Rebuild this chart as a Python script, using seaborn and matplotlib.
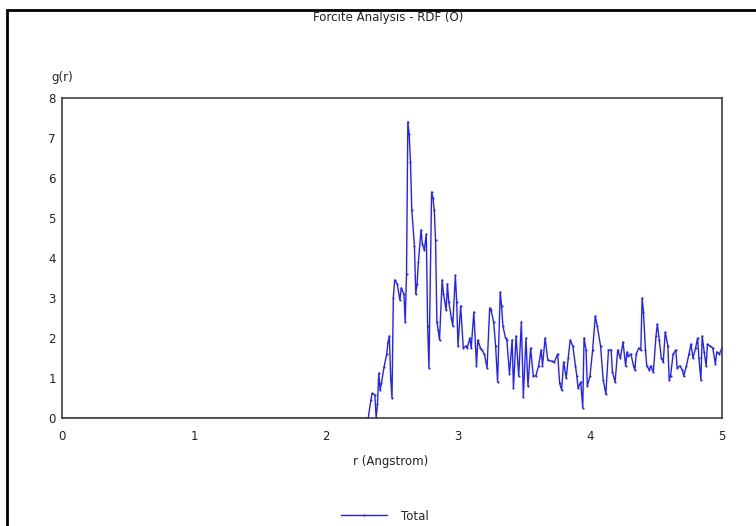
import matplotlib
matplotlib.use("Agg")
import matplotlib.pyplot as plt
from matplotlib.patches import Rectangle
from matplotlib.ticker import MultipleLocator
import seaborn as sns

# g(r) values
r_vals = [0.0, 2.32, 2.34, 2.35, 2.37, 2.38, 2.39, 2.40, 2.41, 2.42,
          2.44, 2.46, 2.47, 2.48, 2.49, 2.50, 2.51, 2.52, 2.54, 2.56,
          2.57, 2.59, 2.60, 2.61, 2.62, 2.63, 2.64, 2.65, 2.67, 2.68,
          2.69, 2.70, 2.72, 2.73, 2.745, 2.76, 2.77, 2.78, 2.80, 2.81,
          2.82, 2.83, 2.84, 2.85, 2.86, 2.88, 2.89, 2.91, 2.92, 2.93,
          2.95, 2.96, 2.98, 2.99, 3.00, 3.02, 3.04, 3.06, 3.07, 3.09,
          3.10, 3.12, 3.14, 3.15, 3.17, 3.18, 3.20, 3.22, 3.24, 3.25,
          3.27, 3.285, 3.30, 3.32, 3.33, 3.34, 3.36, 3.37, 3.39, 3.41,
          3.42, 3.44, 3.46, 3.48, 3.495, 3.515, 3.53, 3.55, 3.57, 3.59,
          3.61, 3.63, 3.64, 3.66, 3.68, 3.71, 3.73, 3.755, 3.77, 3.785,
          3.80, 3.82, 3.835, 3.85, 3.87, 3.89, 3.90, 3.91, 3.93, 3.945,
          3.955, 3.97, 3.98, 4.00, 4.02, 4.04, 4.055, 4.08, 4.10, 4.12,
          4.14, 4.16, 4.17, 4.19, 4.21, 4.23, 4.25, 4.27, 4.28, 4.29,
          4.31, 4.33, 4.34, 4.35, 4.37, 4.385, 4.395, 4.405, 4.42, 4.43,
          4.45, 4.46, 4.48, 4.50, 4.51, 4.525, 4.54, 4.555, 4.57, 4.59,
          4.60, 4.61, 4.63, 4.65, 4.66, 4.68, 4.70, 4.71, 4.73, 4.75,
          4.765, 4.78, 4.80, 4.815, 4.825, 4.84, 4.85, 4.865, 4.88, 4.89,
          4.91, 4.93, 4.95, 4.96, 4.98, 5.00]
g_vals = [0.0, 0.0, 0.45, 0.62, 0.58, 0.0, 0.35, 1.12, 0.7, 0.87,
          1.28, 1.6, 1.9, 2.05, 1.0, 0.5, 3.0, 3.45, 3.35, 2.95,
          3.25, 3.1, 2.4, 3.6, 7.4, 7.1, 6.4, 5.2, 4.3, 3.1,
          3.35, 3.9, 4.7, 4.35, 4.2, 4.6, 2.3, 1.25, 5.65, 5.5,
          5.2, 4.45, 2.4, 2.2, 1.95, 3.45, 3.1, 2.7, 3.35, 2.9,
          2.5, 2.3, 3.57, 2.9, 1.8, 2.8, 1.75, 1.8, 1.75, 2.0,
          1.75, 2.65, 1.3, 1.95, 1.75, 1.7, 1.6, 1.25, 2.75, 2.7,
          2.4, 1.8, 0.9, 3.15, 2.8, 2.3, 2.0, 1.95, 1.1, 1.95,
          0.75, 2.05, 1.05, 2.4, 0.53, 2.0, 0.8, 1.75, 1.05, 1.05,
          1.3, 1.7, 1.3, 2.0, 1.45, 1.42, 1.4, 1.6, 0.87, 0.7,
          1.4, 1.0, 1.5, 1.95, 1.8, 1.3, 1.05, 0.75, 0.9, 0.25,
          2.0, 1.7, 0.8, 1.05, 1.7, 2.55, 2.3, 1.8, 0.95, 0.6,
          1.7, 1.7, 1.15, 0.9, 1.7, 1.5, 1.9, 1.3, 1.65, 1.55,
          1.6, 1.3, 1.2, 1.6, 1.75, 1.7, 3.0, 2.65, 1.7, 1.3,
          1.2, 1.3, 1.15, 2.05, 2.35, 1.95, 1.5, 1.4, 2.15, 1.8,
          0.95, 1.05, 1.6, 1.7, 1.25, 1.3, 1.2, 1.05, 1.3, 1.6,
          1.85, 1.5, 1.75, 2.0, 1.5, 0.95, 2.05, 1.65, 1.3, 1.85,
          1.8, 1.75, 1.35, 1.65, 1.6, 1.75]
assert len(r_vals) == len(g_vals)

sns.set_theme(style="white")
plt.rcParams["font.family"] = ["DejaVu Sans"]
FS = 8.5
plt.rcParams["font.size"] = FS

W, H = 756, 526
fig = plt.figure(figsize=(W / 100, H / 100), dpi=100)
ax = fig.add_axes([62 / W, 108 / H, 660 / W, 320 / H])

sns.lineplot(x=r_vals, y=g_vals, ax=ax, color="#2222ff", linewidth=1.0,
             estimator=None, marker="o", markersize=1.5, markeredgewidth=0,
             label="Total")

ax.set_xlim(0, 5)
ax.set_ylim(0, 8)
ax.xaxis.set_major_locator(MultipleLocator(1))
ax.xaxis.set_minor_locator(MultipleLocator(0.5))
ax.yaxis.set_major_locator(MultipleLocator(1))
ax.yaxis.set_minor_locator(MultipleLocator(0.5))
ax.tick_params(which="both", direction="inout", length=5, width=1,
               color="#404040", labelsize=FS, labelcolor="#222222", pad=2)
ax.tick_params(axis="x", pad=6)
for s in ax.spines.values():
    s.set_color("#404040")
    s.set_linewidth(1.2)
ax.set_xlabel("")
ax.set_ylabel("")

fig.text(388 / W, 1 - 18 / H, "Forcite Analysis - RDF (O)",
         ha="center", va="center", color="#222222")
fig.text(62 / W, 1 - 78 / H, "g(r)", ha="center", va="center", color="#222222")
fig.text(391 / W, 1 - 462 / H, "r (Angstrom)", ha="center", va="center",
         color="#222222")

ax.legend(loc="center", bbox_to_anchor=(385 / W, 1 - 516 / H),
          bbox_transform=fig.transFigure, frameon=False, handlelength=3.9,
          handletextpad=1.2, fontsize=FS, markerscale=1)

fig.add_artist(Rectangle((7 / W, -0.1), 1.2, 1.1 - 10 / H,
                         transform=fig.transFigure, fill=False,
                         edgecolor="black", linewidth=2))

fig.savefig("out.png", dpi=100)
